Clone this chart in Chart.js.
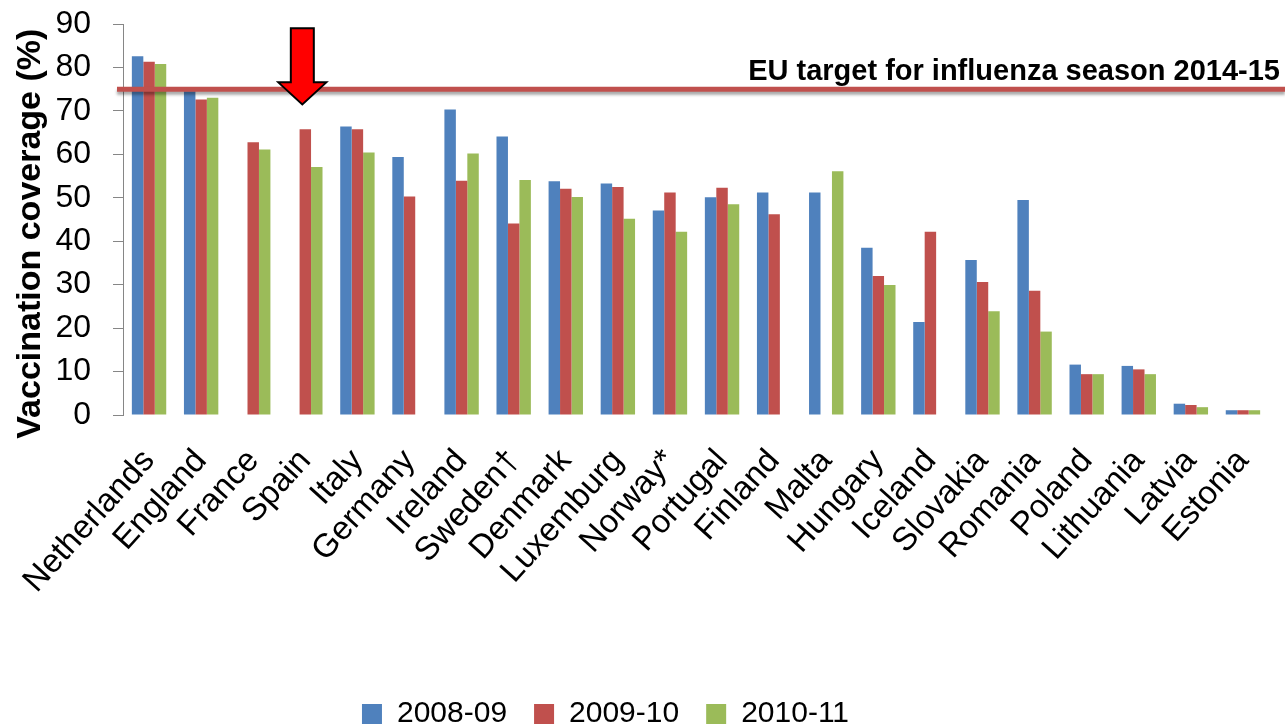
<!DOCTYPE html>
<html>
<head>
<meta charset="utf-8">
<script src="https://cdn.jsdelivr.net/npm/chart.js@4.4.1/dist/chart.umd.min.js"></script>
<style>
  html, body { margin: 0; padding: 0; background: #fff; }
  #wrap { width: 1285px; height: 728px; position: relative; }
</style>
</head>
<body>
<div id="wrap"><canvas id="coverage"></canvas></div>
<script>
const countries = [
  "Netherlands", "England", "France", "Spain", "Italy", "Germany", "Ireland",
  "Sweden†", "Denmark", "Luxemburg", "Norway*", "Portugal", "Finland", "Malta",
  "Hungary", "Iceland", "Slovakia", "Romania", "Poland", "Lithuania", "Latvia", "Estonia",
];
const season0809 = [82.6, 74.5, null, null, 66.4, 59.4, 70.3, 64.1, 53.8, 53.3, 47.1, 50.1, 51.2, 51.2, 38.5, 21.4, 35.7, 49.5, 11.6, 11.3, 2.6, 1.1];
const season0910 = [81.3, 72.6, 62.8, 65.8, 65.8, 50.3, 53.9, 44.1, 52.1, 52.5, 51.2, 52.3, 46.2, null, 32.0, 42.2, 30.6, 28.6, 9.4, 10.5, 2.3, 1.1];
const season1011 = [80.8, 73.0, 61.1, 57.1, 60.4, null, 60.2, 54.1, 50.2, 45.2, 42.2, 48.5, null, 56.1, 29.9, null, 23.9, 19.2, 9.4, 9.4, 1.8, 1.1];
const seasonLabels = ["2008-09", "2009-10", "2010-11"];
const yTicks = [0, 10, 20, 30, 40, 50, 60, 70, 80, 90];

const euTarget = 75;
const targetLabel = "EU target for influenza season 2014-15";
// arrow points at Spain, from the top of the axis down to just above the target line
const arrowCountry = "Spain";
const arrowFrom = 89;
const arrowTo = 71.5;

const FONT = "'Liberation Sans', Arial, Helvetica, sans-serif";

// target line with label and the red arrow, drawn over the bars
const targetLine = {
  id: "targetLine",
  afterLayout: (chart) => {
    // legend sits a little left of centre in the original
    chart.legend.left -= 32;
    chart.legend.right -= 32;
  },
  afterDatasetsDraw: (chart) => {
    const { ctx, chartArea, scales } = chart;
    const y = scales.y.getPixelForValue(euTarget);
    ctx.save();
    ctx.shadowColor = "rgba(0, 0, 0, 0.35)";
    ctx.shadowBlur = 3;
    ctx.shadowOffsetY = 3;
    ctx.strokeStyle = "#c0504d";
    ctx.lineWidth = 5;
    ctx.beginPath();
    ctx.moveTo(chartArea.left - 6, y);
    ctx.lineTo(chart.width, y);
    ctx.stroke();
    ctx.restore();

    ctx.save();
    ctx.font = `bold 29px ${FONT}`;
    ctx.fillStyle = "#000";
    ctx.textAlign = "right";
    ctx.textBaseline = "alphabetic";
    ctx.fillText(targetLabel, chart.width - 5, y - 9);
    ctx.restore();

    // red arrow
    const x = scales.x.getPixelForValue(countries.indexOf(arrowCountry)) - 3;
    const top = scales.y.getPixelForValue(arrowFrom);
    const tip = scales.y.getPixelForValue(arrowTo);
    const headH = 22;
    const shaftW = 11.5;
    const headW = 24;
    ctx.save();
    ctx.beginPath();
    ctx.moveTo(x - shaftW, top);
    ctx.lineTo(x + shaftW, top);
    ctx.lineTo(x + shaftW, tip - headH);
    ctx.lineTo(x + headW, tip - headH);
    ctx.lineTo(x, tip);
    ctx.lineTo(x - headW, tip - headH);
    ctx.lineTo(x - shaftW, tip - headH);
    ctx.closePath();
    ctx.fillStyle = "#ff0000";
    ctx.fill();
    ctx.lineWidth = 2;
    ctx.strokeStyle = "#000";
    ctx.stroke();
    ctx.restore();
  },
};

const canvas = document.querySelector("#coverage");
new Chart(canvas, {
  type: "bar",
  data: {
    labels: countries,
    datasets: [
      { label: seasonLabels[0], data: season0809, backgroundColor: "#4f81bd" },
      { label: seasonLabels[1], data: season0910, backgroundColor: "#c0504d" },
      { label: seasonLabels[2], data: season1011, backgroundColor: "#9bbb59" },
    ],
  },
  options: {
    responsive: true,
    maintainAspectRatio: false,
    animation: false,
    categoryPercentage: 0.66,
    barPercentage: 1,
    layout: {
      padding: { top: 24, left: 6, right: 16, bottom: -11 },
    },
    plugins: {
      tooltip: { enabled: false },
      legend: {
        position: "bottom",
        labels: {
          boxWidth: 20,
          boxHeight: 20,
          padding: 27,
          color: "#000",
          font: { family: FONT, size: 30 },
        },
      },
    },
    scales: {
      x: {
        grid: { display: false },
        border: { display: false },
        afterFit: (scale) => {
          // rotated labels may hang out to the left, as in the original
          scale.height = 257;
          scale.paddingLeft = 0;
          scale.paddingRight = 0;
        },
        ticks: {
          autoSkip: false,
          maxRotation: 48,
          minRotation: 48,
          padding: 19,
          color: "#000",
          font: { family: FONT, size: 33 },
        },
      },
      y: {
        min: 0,
        max: 90,
        afterBuildTicks: (scale) => {
          scale.ticks = yTicks.map((v) => ({ value: v }));
        },
        afterFit: (scale) => {
          scale.width = 117;
          scale.paddingTop = 0;
          scale.paddingBottom = 0;
        },
        grid: {
          drawOnChartArea: false,
          drawTicks: true,
          tickLength: 10,
          color: "#868686",
        },
        border: { display: true, color: "#868686", width: 1 },
        ticks: {
          padding: 22,
          color: "#000",
          font: { family: FONT, size: 32 },
        },
        title: {
          display: true,
          // trailing spaces nudge the title down, as it sits in the original
          text: "Vaccination coverage (%)   ",
          color: "#000",
          font: { family: FONT, size: 34, weight: "bold" },
        },
      },
    },
  },
  plugins: [targetLine],
});
</script>
</body>
</html>
